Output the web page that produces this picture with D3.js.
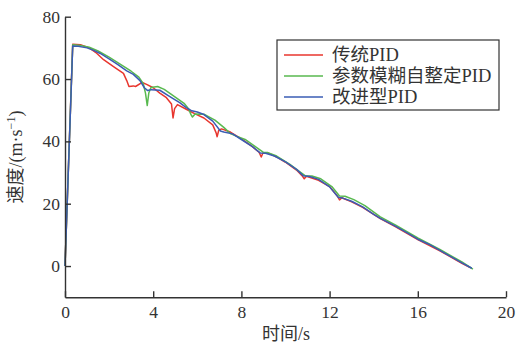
<!DOCTYPE html>
<html>
<head>
<meta charset="utf-8">
<script src="https://cdn.jsdelivr.net/npm/d3@7"></script>
<style>
  body { margin: 0; background: #fff; }
  text { font-family: "Liberation Serif", "Noto Sans CJK SC", serif; fill: #333; }
</style>
</head>
<body>
<svg id="chart" width="517" height="344"></svg>
<script>
// time (s), speed (m/s)
var xTicks = [0, 4, 8, 12, 16, 20]
var yTicks = [0, 20, 40, 60, 80]
var seriesNames = ["传统PID", "参数模糊自整定PID", "改进型PID"]
var seriesColors = ["#e8362e", "#58b94f", "#3a5cb4"]

var pidClassic = [[0,0],[0.35,71.2],[0.7,71],[1.1,70],[1.4,68.5],[1.75,66.2],[2.2,64],[2.65,61.8],[2.8,59.5],[2.9,57.6],[3.1,57.8],[3.2,57.6],[3.5,58.9],[3.7,58.3],[4.0,57.2],[4.3,55.5],[4.6,54],[4.83,52],[4.9,47.5],[4.97,50.5],[5.1,51.8],[5.5,50.3],[5.9,48.8],[6.3,47.5],[6.7,45.3],[6.85,42.8],[6.9,41.5],[6.97,43.5],[7.1,44.0],[7.5,43],[8,40.8],[8.5,38.3],[8.8,36.5],[8.9,35],[8.97,36.2],[9.2,36.3],[9.6,35],[10,33.3],[10.5,30.8],[10.75,29],[10.85,28.0],[10.95,28.8],[11.5,27.5],[12,25.5],[12.35,22.5],[12.45,21.2],[12.55,21.9],[13.0,20.6],[13.5,18.8],[14.3,15.2],[15,12.6],[16,8.5],[17,4.9],[18,0.9],[18.4,-0.6]]

var pidFuzzy = [[0,0],[0.35,71],[0.7,70.8],[1.1,70.2],[1.5,69],[2.0,67],[2.5,64.8],[3.0,62.5],[3.35,60.6],[3.55,58.5],[3.65,55.5],[3.73,51.5],[3.8,55.5],[3.9,57.3],[4.2,57.6],[4.5,56.7],[5.0,54.2],[5.4,52.2],[5.6,50.5],[5.72,48.5],[5.78,47.8],[5.9,48.8],[6.3,48.7],[6.8,46.8],[7.2,44.5],[7.5,42.5],[7.8,41.6],[8.2,40.5],[8.6,38.5],[9.0,36.5],[9.2,36.4],[9.6,35.3],[10.2,32.6],[10.7,30.0],[10.9,28.9],[11.2,28.9],[11.6,28.0],[12.1,25.5],[12.45,22.5],[12.7,22.4],[13.1,21.3],[13.6,19.4],[14.3,15.8],[15,13.1],[16,9.0],[17,5.3],[18,1.3],[18.5,-1.0]]

var pidImproved = [[0,0],[0.35,70.6],[0.6,70.5],[1.0,70],[1.3,69.2],[1.6,68.2],[2.0,66.5],[2.4,64.6],[2.8,62.6],[3.1,61.5],[3.4,59.5],[3.6,57.2],[3.75,56.3],[3.9,56.6],[4.3,56.4],[4.7,54.6],[5.2,52.4],[5.5,50.8],[5.75,49.8],[6.0,49.4],[6.3,48.6],[6.7,46.5],[7.05,43.3],[7.2,43.0],[7.6,42.4],[8.0,40.6],[8.5,38.3],[8.85,36.3],[9.1,36.2],[9.5,35.3],[10.0,33.4],[10.5,31.0],[10.8,29.0],[11.1,28.7],[11.5,27.8],[12.0,25.4],[12.4,22.0],[12.6,21.8],[13.0,20.8],[13.5,19.0],[14.0,16.6],[14.3,15.3],[15.0,12.7],[15.5,10.7],[16.0,8.6],[16.5,7.0],[17.0,5.0],[17.5,3.0],[18.0,1.0],[18.45,-0.7]]

var allSeries = [pidClassic, pidFuzzy, pidImproved]

var svg = d3.select("#chart")

var x = d3.scaleLinear().domain([0, 20]).range([65, 506])
var y = d3.scaleLinear().domain([-10, 80]).range([297.2, 16.7])

var line = d3.line()
    .x(function(d) { return x(d[0]) })
    .y(function(d) { return y(d[1]) })

svg.selectAll("path.curve")
    .data(allSeries)
    .enter()
    .append("path")
    .attr("class", "curve")
    .attr("d", line)
    .attr("fill", "none")
    .attr("stroke", function(d, i) { return seriesColors[i] })
    .attr("stroke-width", 1.5)
    .attr("stroke-linejoin", "round")

// axes, ticks point inward
let xAxis = svg.append("g")
    .attr("transform", "translate(0," + y(-10) + ")")
    .call(d3.axisBottom(x).tickValues(xTicks).tickSizeInner(-6).tickSizeOuter(0).tickPadding(8))

let yAxis = svg.append("g")
    .attr("transform", "translate(" + x(0) + ",0)")
    .call(d3.axisLeft(y).tickValues(yTicks).tickSizeInner(-6).tickSizeOuter(0).tickPadding(5))

svg.selectAll(".domain, .tick line")
    .attr("stroke", "#333")
    .attr("stroke-width", 1.4)

svg.selectAll(".tick text")
    .attr("font-size", 17.5)
    .attr("font-family", "Liberation Serif, serif")
    .attr("fill", "#333")

// axis titles
svg.append("text")
    .attr("x", 286)
    .attr("y", 340)
    .attr("text-anchor", "middle")
    .attr("font-size", 18)
    .text("时间/s")

let yTitle = svg.append("text")
    .attr("transform", "translate(22,157) rotate(-90)")
    .attr("text-anchor", "middle")
    .attr("font-size", 18)
yTitle.append("tspan").text("速度/(m·s")
yTitle.append("tspan").attr("dy", -7).attr("font-size", 12).text("−1")
yTitle.append("tspan").attr("dy", 7).text(")")

// legend
var legend = svg.append("g")

legend.append("rect")
    .attr("x", 277)
    .attr("y", 40)
    .attr("width", 222)
    .attr("height", 70)
    .attr("fill", "#fff")
    .attr("stroke", "#333")
    .attr("stroke-width", 1.2)

let rows = legend.selectAll("g.row")
    .data(seriesNames)
    .enter()
    .append("g")
    .attr("class", "row")
    .attr("transform", function(d, i) { return "translate(0," + (55 + i * 21) + ")" })

rows.append("line")
    .attr("x1", 284)
    .attr("x2", 323)
    .attr("stroke", function(d, i) { return seriesColors[i] })
    .attr("stroke-width", 1.5)

rows.append("text")
    .attr("x", 332)
    .attr("dy", "0.35em")
    .attr("font-size", 18.5)
    .text(function(d) { return d })
</script>
</body>
</html>
